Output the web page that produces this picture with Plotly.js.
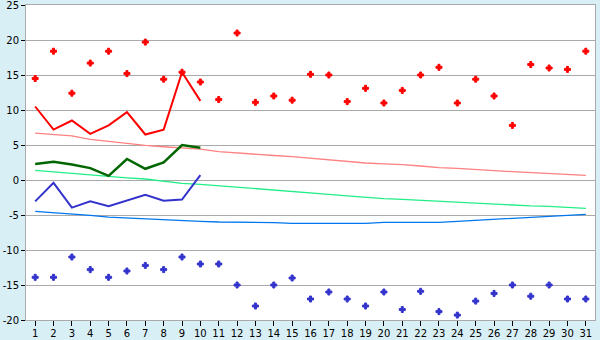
<!DOCTYPE html>
<html><head><meta charset="utf-8">
<script src="https://cdn.plot.ly/plotly-3.0.1.min.js"></script>
<style>html,body{margin:0;padding:0;background:#d9eff6;}</style>
</head><body>
<div id="chart" style="width:600px;height:340px;"></div>
<script>
const days = Array.from({length:31},(_,i)=>i+1);
const dailyMaxPoints = [14.5,18.4,12.4,16.7,18.4,15.2,19.7,14.4,15.4,14.0,11.5,21.0,11.1,12.0,11.4,15.1,15.0,11.2,13.1,11.0,12.8,15.0,16.1,11.0,14.4,12.0,7.8,16.5,16.0,15.8,18.4];
const dailyMinPoints = [-13.9,-13.9,-11.0,-12.8,-13.9,-13.0,-12.2,-12.8,-11.0,-12.0,-12.0,-15.0,-18.0,-15.0,-14.0,-17.0,-16.0,-17.0,-18.0,-16.0,-18.5,-15.9,-18.8,-19.3,-17.3,-16.2,-15.0,-16.6,-15.0,-17.0,-17.0];
const curDays = [1,2,3,4,5,6,7,8,9,10];
const curMax = [10.5,7.2,8.5,6.6,7.8,9.7,6.5,7.2,15.4,11.3];
const curMean = [2.3,2.6,2.2,1.7,0.6,3.0,1.6,2.5,5.0,4.6];
const curMin = [-3.05,-0.4,-3.95,-3.05,-3.75,-2.9,-2.1,-2.95,-2.8,0.7];
const normMax = [6.7,6.5,6.3,5.8,5.5,5.2,4.95,4.75,4.55,4.4,4.05,3.9,3.7,3.5,3.33,3.1,2.86,2.65,2.43,2.29,2.2,2.0,1.76,1.67,1.45,1.33,1.19,1.05,0.95,0.8,0.67];
const normMean = [1.38,1.15,0.95,0.7,0.48,0.3,0.14,-0.15,-0.48,-0.62,-0.81,-1.0,-1.19,-1.38,-1.57,-1.8,-2.05,-2.28,-2.48,-2.67,-2.76,-2.9,-3.05,-3.2,-3.33,-3.48,-3.62,-3.7,-3.76,-3.9,-4.05];
const normMin = [-4.48,-4.65,-4.86,-5.05,-5.29,-5.43,-5.57,-5.7,-5.81,-5.9,-6.0,-6.02,-6.05,-6.1,-6.19,-6.19,-6.19,-6.19,-6.19,-6.05,-6.05,-6.05,-6.05,-5.9,-5.76,-5.62,-5.48,-5.33,-5.19,-5.05,-4.9];
const yTicks = [-20,-15,-10,-5,0,5,10,15,20,25];

const traces = [
  {x:days,y:normMax,mode:'lines',line:{color:'#ff8080',width:1.3},hoverinfo:'skip'},
  {x:days,y:normMean,mode:'lines',line:{color:'#22ee88',width:1.3},hoverinfo:'skip'},
  {x:days,y:normMin,mode:'lines',line:{color:'#0077ee',width:1.3},hoverinfo:'skip'},
  {x:curDays,y:curMax,mode:'lines',line:{color:'#ff0000',width:2}},
  {x:curDays,y:curMean,mode:'lines',line:{color:'#006600',width:2.5}},
  {x:curDays,y:curMin,mode:'lines',line:{color:'#3333cc',width:2}},
  {x:days,y:dailyMaxPoints,mode:'markers',marker:{symbol:'cross',size:5,color:'#ff0000',line:{width:1,color:'#ff0000'}}},
  {x:days,y:dailyMinPoints,mode:'markers',marker:{symbol:'cross',size:5,color:'#3333cc',line:{width:1,color:'#3333cc'}}}
];
const layout = {
  width:600,height:340,
  margin:{l:26,r:5,t:5,b:20,pad:0},
  paper_bgcolor:'#d9eff6',plot_bgcolor:'#ffffff',
  showlegend:false,
  font:{family:'DejaVu Sans, Verdana, sans-serif',size:10,color:'#000'},
  xaxis:{range:[0.5,31.5],tickvals:days,ticktext:days.map(String),showgrid:false,zeroline:false,
    showline:true,linecolor:'#aaaaaa',linewidth:1,mirror:true,ticks:'outside',ticklen:5,tickcolor:'#000',
    ticklabelstandoff:-1,ticklabeloverflow:'allow',fixedrange:true},
  yaxis:{range:[-20,25],tickvals:yTicks,ticktext:yTicks.map(String),showgrid:true,gridcolor:'#aaaaaa',gridwidth:1,zeroline:false,
    showline:true,linecolor:'#aaaaaa',linewidth:1,mirror:true,ticks:'outside',ticklen:4,tickcolor:'#000',
    ticklabelstandoff:0,ticklabeloverflow:'allow',fixedrange:true}
};
Plotly.newPlot('chart',traces,layout,{staticPlot:true,displayModeBar:false});
</script>
</body></html>
